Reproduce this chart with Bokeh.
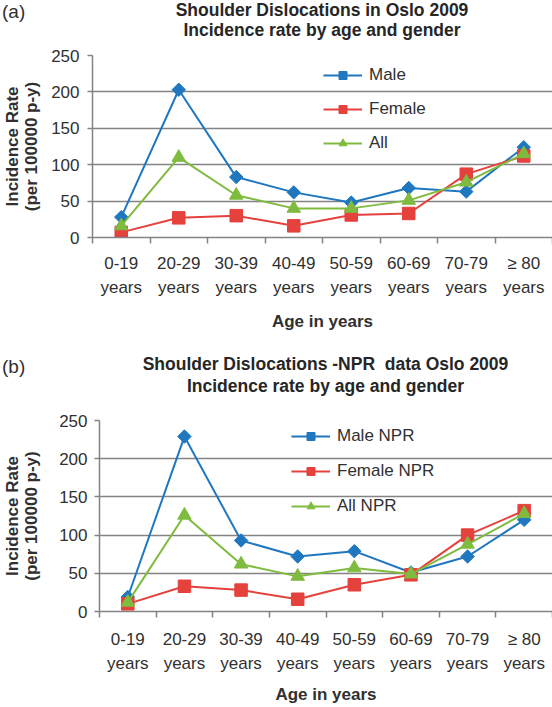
import math
from bokeh.plotting import figure
from bokeh.models import (FactorRange, Range1d, LinearAxis, FixedTicker,
                          Legend, LegendItem, Grid, Div)
from bokeh.layouts import column
from bokeh.embed import file_html
from bokeh.resources import INLINE

# ---------------- data ----------------
age_groups = ["0-19", "20-29", "30-39", "40-49", "50-59", "60-69", "70-79", "≥ 80"]
age_tick_labels = ["0-19\nyears", "20-29\nyears", "30-39\nyears", "40-49\nyears",
                   "50-59\nyears", "60-69\nyears", "70-79\nyears", "≥ 80\nyears"]
y_ticks = [0, 50, 100, 150, 200, 250]

# (a) Oslo 2009
male_a = [28, 203, 83, 62, 48, 68, 63, 124]
female_a = [7, 27, 30, 16, 31, 33, 87, 112]
all_a = [16, 110, 58, 40, 40, 51, 76, 115]
names_a = ["Male", "Female", "All"]
title_a = ["Shoulder Dislocations in Oslo 2009", "Incidence rate by age and gender"]

# (b) NPR data Oslo 2009
male_b = [19, 229, 93, 72, 79, 51, 72, 120]
female_b = [10, 33, 28, 16, 35, 48, 100, 132]
all_b = [12, 126, 62, 46, 57, 49, 88, 128]
names_b = ["Male NPR", "Female NPR", "All NPR"]
title_b = ["Shoulder Dislocations -NPR  data Oslo 2009", "Incidence rate by age and gender"]

FONT = "Liberation Sans"
FS = "17px"
BLUE = "#1f77c0"
RED = "#e5413d"
GREEN = "#7fbb3e"
GRID = "#838383"
TXT = "#303030"
W = 552


def header(tag, lines, h, tag_top, title_top, title_lh, title_left):
    """HTML strip above a chart holding the panel tag and the two-line title."""
    html = (
        f'<div style="position:relative;width:{W}px;height:{h}px;'
        f"font-family:'{FONT}',sans-serif;color:{TXT};\">"
        f'<div style="position:absolute;left:2px;top:{tag_top}px;font-size:19px;'
        f'line-height:22px;">{tag}</div>'
        f'<div style="position:absolute;left:{title_left}px;width:{W - title_left}px;'
        f'top:{title_top}px;text-align:center;font-size:17.5px;line-height:{title_lh}px;'
        f'font-weight:bold;color:#262626;white-space:pre;">' + "<br>".join(lines) +
        '</div></div>')
    return Div(text=html, width=W, height=h, margin=0)


def chart(series, names, fig_h, top, bottom, left, legend_xy, legend_spacing,
          x_label_standoff, x_axis_label_standoff, y_label_standoff, y_axis_label_standoff):
    p = figure(width=W, height=fig_h,
               x_range=FactorRange(factors=age_groups, range_padding=0, factor_padding=0),
               y_range=Range1d(0, 250),
               x_axis_type=None, y_axis_type=None,
               output_backend="svg", toolbar_location=None,
               min_border_left=left, min_border_right=0,
               min_border_top=top, min_border_bottom=bottom)
    p.outline_line_color = None

    # y axis
    yaxis = LinearAxis(ticker=FixedTicker(ticks=y_ticks),
                       axis_label="Incidence Rate\n(per 100000 p-y)")
    yaxis.axis_line_color = GRID
    yaxis.axis_line_width = 1.5
    yaxis.major_tick_in = 0
    yaxis.major_tick_out = 5
    yaxis.major_tick_line_color = GRID
    yaxis.major_tick_line_width = 1.5
    yaxis.minor_tick_line_color = None
    yaxis.major_label_text_font = FONT
    yaxis.major_label_text_font_size = FS
    yaxis.major_label_text_color = TXT
    yaxis.major_label_standoff = y_label_standoff
    yaxis.axis_label_text_font = FONT
    yaxis.axis_label_text_font_size = FS
    yaxis.axis_label_text_font_style = "bold"
    yaxis.axis_label_text_color = TXT
    yaxis.axis_label_text_line_height = 1.0
    yaxis.axis_label_standoff = y_axis_label_standoff
    p.add_layout(yaxis, "left")

    # x axis: labels at category centres, tick marks at category boundaries
    n = len(age_groups)
    centers = [i + 0.5 for i in range(n)]
    bounds = [float(i) for i in range(n + 1)]
    xaxis = LinearAxis(ticker=FixedTicker(ticks=centers, minor_ticks=bounds),
                       axis_label="Age in years")
    xaxis.major_label_overrides = {c: lab for c, lab in zip(centers, age_tick_labels)}
    xaxis.axis_line_color = GRID
    xaxis.axis_line_width = 1.5
    xaxis.major_tick_line_color = None
    xaxis.major_tick_in = 0
    xaxis.major_tick_out = 0
    xaxis.minor_tick_line_color = GRID
    xaxis.minor_tick_line_width = 1.5
    xaxis.minor_tick_in = 0
    xaxis.minor_tick_out = 6
    xaxis.major_label_text_font = FONT
    xaxis.major_label_text_font_size = FS
    xaxis.major_label_text_color = TXT
    xaxis.major_label_text_line_height = 1.3
    xaxis.major_label_standoff = x_label_standoff
    xaxis.axis_label_text_font = FONT
    xaxis.axis_label_text_font_size = FS
    xaxis.axis_label_text_font_style = "bold"
    xaxis.axis_label_text_color = TXT
    xaxis.axis_label_standoff = x_axis_label_standoff
    p.add_layout(xaxis, "below")

    p.add_layout(Grid(dimension=1, ticker=yaxis.ticker,
                      grid_line_color=GRID, grid_line_width=1.5))

    styles = [(BLUE, "square", 9.5, math.pi / 4),
              (RED, "square", 12.5, 0.0),
              (GREEN, "triangle", 13.5, 0.0)]
    items = []
    for vals, name, (col, mk, sz, ang) in zip(series, names, styles):
        lr = p.line(x=age_groups, y=vals, line_color=col, line_width=2)
        sr = p.scatter(x=age_groups, y=vals, marker=mk, size=sz, angle=ang,
                       fill_color=col, line_color=col, line_width=1)
        items.append(LegendItem(label=name, renderers=[lr, sr]))

    legend = Legend(items=items, location=legend_xy)
    legend.border_line_color = None
    legend.background_fill_alpha = 0
    legend.label_text_font = FONT
    legend.label_text_font_size = FS
    legend.label_text_color = TXT
    legend.glyph_width = 39
    legend.glyph_height = 20
    legend.label_height = 20
    legend.spacing = legend_spacing
    legend.padding = 0
    legend.margin = 0
    legend.label_standoff = 7
    p.add_layout(legend)
    return p


head_a = header("(a)", title_a, h=45, tag_top=1, title_top=0, title_lh=20, title_left=92)
pa = chart([male_a, female_a, all_a], names_a,
           fig_h=300, top=10, bottom=108, left=92,
           legend_xy=(231, 84), legend_spacing=14,
           x_label_standoff=10, x_axis_label_standoff=12,
           y_label_standoff=8, y_axis_label_standoff=7)

head_b = header("(b)", title_b, h=55, tag_top=11, title_top=8, title_lh=22, title_left=99)
pb = chart([male_b, female_b, all_b], names_b,
           fig_h=307, top=20, bottom=94, left=99,
           legend_xy=(192, 95), legend_spacing=15,
           x_label_standoff=12, x_axis_label_standoff=9,
           y_label_standoff=7, y_axis_label_standoff=15)

layout = column(column(head_a, pa, spacing=0), column(head_b, pb, spacing=0), spacing=0)
open("out.html", "w").write(file_html(layout, INLINE))
